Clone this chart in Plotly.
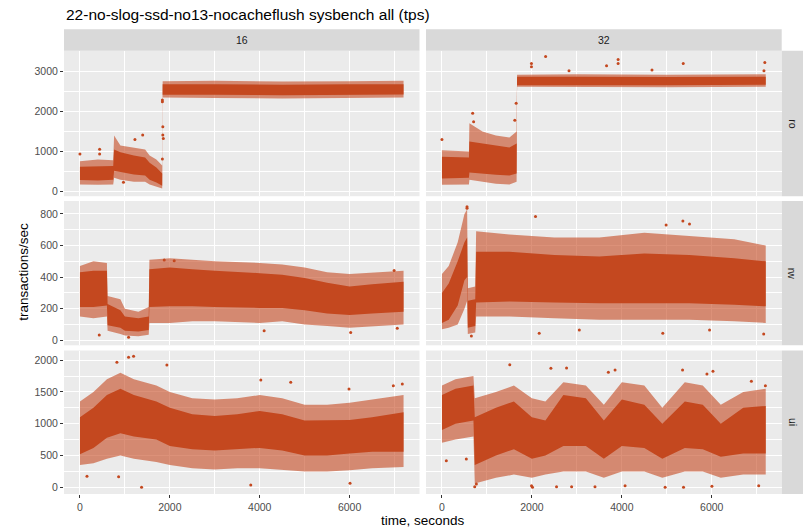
import plotly.graph_objects as go

W, H = 810, 528
COLOR = "#C4481F"
FONT = "Liberation Sans, Arial, Helvetica, sans-serif"

TITLE = "22-no-slog-ssd-no13-nocacheflush sysbench all (tps)"
X_TITLE = "time, seconds"
Y_TITLE = "transactions/sec"
COLS = ["16", "32"]
ROWS = ["ro", "rw", "ui"]
X_TICKS = [0, 2000, 4000, 6000]
X_MINOR = [1000, 3000, 5000, 7000]
Y_TICKS = {"ro": [0, 1000, 2000, 3000], "rw": [0, 200, 400, 600, 800], "ui": [0, 500, 1000, 1500, 2000]}
Y_MINOR = {"ro": [500, 1500, 2500, 3500], "rw": [100, 300, 500, 700], "ui": [250, 750, 1250, 1750]}

# ---- values: time (s), outer low, dense low, dense high, outer high ----
RO16_T      = [0, 400, 740, 760, 900, 1200, 1450, 1550, 1700, 1830, 1840, 3000, 4500, 6000, 7200]
RO16_OUT_LO = [180, 170, 180, 350, 300, 250, 250, 180, 120, 80, 2340, 2330, 2320, 2330, 2340]
RO16_IN_LO  = [290, 280, 300, 520, 480, 430, 400, 300, 230, 150, 2410, 2410, 2400, 2410, 2420]
RO16_IN_HI  = [620, 640, 640, 1050, 980, 900, 850, 720, 600, 450, 2670, 2670, 2660, 2670, 2670]
RO16_OUT_HI = [760, 800, 780, 1400, 1150, 1100, 1050, 900, 800, 650, 2750, 2760, 2740, 2750, 2760]
RO16_PT_T = [0, 438, 438, 968, 1396, 1223, 1844, 1844, 1855, 1834, 1834, 1834]
RO16_PT_V = [937, 1053, 937, 232, 1410, 1300, 1617, 1410, 1326, 812, 2280, 2238]

RO32_T      = [0, 600, 610, 900, 1200, 1500, 1660, 1670, 3000, 5000, 7200]
RO32_OUT_LO = [170, 180, 300, 250, 200, 180, 250, 2610, 2600, 2600, 2610]
RO32_IN_LO  = [330, 350, 480, 450, 420, 400, 450, 2650, 2650, 2650, 2660]
RO32_IN_HI  = [870, 850, 1250, 1200, 1150, 1100, 1200, 2860, 2860, 2850, 2860]
RO32_OUT_HI = [1030, 1000, 1700, 1500, 1400, 1350, 1500, 2910, 2920, 2910, 2920]
RO32_PT_T = [0, 683, 704, 1620, 1650, 1990, 1990, 2305, 2825, 3660, 3917, 3917, 4670, 5365, 7180, 7160]
RO32_PT_V = [1300, 1950, 1740, 1780, 2200, 3190, 3110, 3360, 3010, 3130, 3290, 3190, 3025, 3190, 3215, 3010]

RW16_T      = [0, 300, 600, 615, 900, 1000, 1300, 1530, 1545, 2000, 2500, 3000, 4000, 4500, 5000, 5500, 6000, 6500, 7200]
RW16_OUT_LO = [150, 140, 150, 60, 40, 30, 25, 35, 110, 110, 120, 120, 110, 120, 100, 90, 80, 90, 100]
RW16_IN_LO  = [210, 210, 220, 95, 80, 60, 55, 65, 210, 215, 215, 210, 205, 205, 190, 170, 160, 170, 180]
RW16_IN_HI  = [430, 440, 440, 230, 190, 150, 140, 150, 450, 460, 450, 440, 425, 415, 395, 365, 340, 355, 370]
RW16_OUT_HI = [470, 500, 490, 280, 260, 200, 180, 210, 510, 520, 510, 500, 490, 480, 460, 430, 420, 430, 440]
RW16_PT_T = [430, 1082, 6990, 7060, 4098, 6024, 2097, 1875]
RW16_PT_V = [34, 19, 441, 76, 61, 49, 504, 508]

RW32_T      = [0, 150, 350, 500, 560, 575, 740, 760, 1500, 2500, 3500, 4500, 5500, 6500, 7200]
RW32_OUT_LO = [70, 80, 100, 200, 250, 40, 50, 150, 150, 140, 130, 130, 130, 120, 110]
RW32_IN_LO  = [110, 130, 220, 380, 400, 80, 90, 240, 245, 240, 235, 235, 235, 225, 215]
RW32_IN_HI  = [300, 360, 500, 620, 650, 250, 260, 560, 560, 540, 530, 550, 540, 520, 500]
RW32_OUT_HI = [420, 470, 620, 800, 830, 330, 340, 690, 670, 650, 650, 680, 660, 640, 600]
RW32_PT_T = [557, 557, 2080, 5357, 5505, 4985, 2162, 3054, 4911, 7155, 654, 5951]
RW32_PT_V = [846, 835, 783, 755, 736, 730, 44, 65, 44, 40, 27, 65]

UI16_T      = [0, 300, 600, 900, 1200, 1700, 2000, 2500, 3000, 3500, 4000, 4500, 5000, 5500, 6000, 6500, 7200]
UI16_OUT_LO = [350, 380, 450, 500, 450, 400, 350, 300, 280, 300, 300, 280, 250, 250, 270, 300, 320]
UI16_IN_LO  = [520, 620, 780, 850, 800, 750, 650, 600, 580, 600, 620, 580, 500, 500, 530, 560, 560]
UI16_IN_HI  = [1100, 1250, 1450, 1550, 1450, 1350, 1250, 1150, 1120, 1150, 1200, 1150, 1050, 1050, 1060, 1100, 1180]
UI16_OUT_HI = [1350, 1500, 1700, 1800, 1700, 1600, 1500, 1400, 1380, 1400, 1450, 1400, 1300, 1300, 1330, 1380, 1450]
UI16_PT_T = [1371, 1082, 1193, 822, 1934, 4024, 4690, 5987, 6010, 3801, 156, 860, 7173, 6973]
UI16_PT_V = [0, 2044, 2060, 1965, 1923, 1687, 1650, 1546, 63, 37, 173, 168, 1624, 1598]

UI32_T      = [0, 300, 700, 730, 1200, 1600, 2000, 2300, 2700, 3200, 3600, 4000, 4500, 4900, 5400, 5800, 6200, 6700, 7200]
UI32_OUT_LO = [700, 750, 800, 60, 150, 200, 150, 200, 250, 250, 150, 250, 250, 150, 250, 250, 150, 200, 200]
UI32_IN_LO  = [900, 1000, 1050, 350, 500, 600, 450, 500, 650, 650, 450, 650, 620, 450, 620, 600, 480, 530, 530]
UI32_IN_HI  = [1450, 1550, 1600, 1100, 1250, 1350, 1100, 1050, 1450, 1400, 1050, 1380, 1300, 1000, 1350, 1300, 1000, 1250, 1280]
UI32_OUT_HI = [1600, 1700, 1750, 1400, 1500, 1600, 1400, 1350, 1650, 1600, 1300, 1650, 1600, 1250, 1650, 1600, 1300, 1500, 1550]
UI32_PT_T = [1508, 2422, 2771, 3700, 3849, 5350, 6026, 5892, 6880, 7192, 728, 765, 1991, 2013, 2548, 2883, 3403, 4072, 4963, 5372, 6003, 7044, 97, 542]
UI32_PT_V = [1928, 1870, 1875, 1808, 1845, 1845, 1823, 1782, 1666, 1598, 10, 52, 26, 0, 10, 10, 10, 26, 0, 0, 16, 26, 419, 445]

PANELS = {
    ("ro", "16"): (RO16_T, RO16_OUT_LO, RO16_IN_LO, RO16_IN_HI, RO16_OUT_HI, RO16_PT_T, RO16_PT_V),
    ("ro", "32"): (RO32_T, RO32_OUT_LO, RO32_IN_LO, RO32_IN_HI, RO32_OUT_HI, RO32_PT_T, RO32_PT_V),
    ("rw", "16"): (RW16_T, RW16_OUT_LO, RW16_IN_LO, RW16_IN_HI, RW16_OUT_HI, RW16_PT_T, RW16_PT_V),
    ("rw", "32"): (RW32_T, RW32_OUT_LO, RW32_IN_LO, RW32_IN_HI, RW32_OUT_HI, RW32_PT_T, RW32_PT_V),
    ("ui", "16"): (UI16_T, UI16_OUT_LO, UI16_IN_LO, UI16_IN_HI, UI16_OUT_HI, UI16_PT_T, UI16_PT_V),
    ("ui", "32"): (UI32_T, UI32_OUT_LO, UI32_IN_LO, UI32_IN_HI, UI32_OUT_HI, UI32_PT_T, UI32_PT_V),
}

# ---- layout geometry (pixels) ----
X_DOM_PX = [(64, 419.5), (426, 781.7)]
Y_DOM_PX = [(50.7, 196.2), (201.0, 345.3), (350.5, 494.0)]
X_RANGE = [-355, 7555]
Y_RANGE = {"ro": [-112, 3507], "rw": [-31.6, 881.6], "ui": [-105, 2151]}


def px_x(p):
    return p / W


def px_y(p):
    return 1 - p / H


fig = go.Figure()
layout = {}
for r, row in enumerate(ROWS):
    for c, col in enumerate(COLS):
        k = r * 2 + c + 1
        sfx = "" if k == 1 else str(k)
        T, olo, ilo, ihi, ohi, pt, pv = PANELS[(row, col)]
        xs = list(T) + list(T)[::-1]
        fig.add_trace(go.Scatter(
            x=xs, y=list(ohi) + list(olo)[::-1], fill="toself", mode="lines",
            line=dict(width=0), fillcolor="rgba(196,72,31,0.6)",
            xaxis="x" + sfx, yaxis="y" + sfx, hoverinfo="skip", showlegend=False))
        fig.add_trace(go.Scatter(
            x=xs, y=list(ihi) + list(ilo)[::-1], fill="toself", mode="lines",
            line=dict(width=0), fillcolor="rgba(196,72,31,1.0)",
            xaxis="x" + sfx, yaxis="y" + sfx, hoverinfo="skip", showlegend=False))
        fig.add_trace(go.Scatter(
            x=pt, y=pv, mode="markers", marker=dict(size=3, color=COLOR),
            xaxis="x" + sfx, yaxis="y" + sfx, showlegend=False))
        xd = X_DOM_PX[c]
        yd = Y_DOM_PX[r]
        bottom = r == len(ROWS) - 1
        left = c == 0
        layout["xaxis" + sfx] = dict(
            domain=[px_x(xd[0]), px_x(xd[1])], anchor="y" + sfx, range=X_RANGE,
            tickvals=X_TICKS, ticktext=[str(v) for v in X_TICKS],
            showticklabels=bottom, ticks="outside" if bottom else "",
            ticklen=3, tickwidth=1, tickcolor="#333333",
            tickfont=dict(size=10.5, color="#4D4D4D", family=FONT),
            showgrid=True, gridcolor="white", gridwidth=1.1,
            minor=dict(tickvals=X_MINOR, showgrid=True, gridcolor="white", gridwidth=0.55, ticks=""),
            zeroline=False, showline=False, fixedrange=True)
        layout["yaxis" + sfx] = dict(
            domain=[px_y(yd[1]), px_y(yd[0])], anchor="x" + sfx, range=Y_RANGE[row],
            tickvals=Y_TICKS[row], ticktext=[str(v) for v in Y_TICKS[row]],
            showticklabels=left, ticks="outside" if left else "",
            ticklen=3, tickwidth=1, tickcolor="#333333",
            tickfont=dict(size=10.5, color="#4D4D4D", family=FONT),
            showgrid=True, gridcolor="white", gridwidth=1.1,
            minor=dict(tickvals=Y_MINOR[row], showgrid=True, gridcolor="white", gridwidth=0.55, ticks=""),
            zeroline=False, showline=False, fixedrange=True)

shapes = []
annotations = []
# top strips
for c, col in enumerate(COLS):
    xd = X_DOM_PX[c]
    shapes.append(dict(type="rect", xref="paper", yref="paper", x0=px_x(xd[0]), x1=px_x(xd[1]),
                       y0=px_y(50.7), y1=px_y(29.3), fillcolor="#D9D9D9", line=dict(width=0), layer="below"))
    annotations.append(dict(text=col, xref="paper", yref="paper", x=px_x((xd[0] + xd[1]) / 2), y=px_y(40),
                            showarrow=False, xanchor="center", yanchor="middle",
                            font=dict(size=10.5, color="#1A1A1A", family=FONT)))
# right strips
for r, row in enumerate(ROWS):
    yd = Y_DOM_PX[r]
    shapes.append(dict(type="rect", xref="paper", yref="paper", x0=px_x(781.7), x1=px_x(803),
                       y0=px_y(yd[1]), y1=px_y(yd[0]), fillcolor="#D9D9D9", line=dict(width=0), layer="below"))
    annotations.append(dict(text=row, xref="paper", yref="paper", x=px_x(792.3), y=px_y((yd[0] + yd[1]) / 2),
                            showarrow=False, xanchor="center", yanchor="middle", textangle=90,
                            font=dict(size=10.5, color="#1A1A1A", family=FONT)))

annotations.append(dict(text=TITLE, xref="paper", yref="paper", x=px_x(64), y=px_y(14.5),
                        showarrow=False, xanchor="left", yanchor="middle",
                        font=dict(size=15.5, color="black", family=FONT)))
annotations.append(dict(text=X_TITLE, xref="paper", yref="paper", x=px_x(422.8), y=px_y(520),
                        showarrow=False, xanchor="center", yanchor="middle",
                        font=dict(size=13.5, color="black", family=FONT)))
annotations.append(dict(text=Y_TITLE, xref="paper", yref="paper", x=px_x(23.5), y=px_y(272.3),
                        showarrow=False, xanchor="center", yanchor="middle", textangle=-90,
                        font=dict(size=13.5, color="black", family=FONT)))

fig.update_layout(
    width=W, height=H, margin=dict(l=0, r=0, t=0, b=0),
    paper_bgcolor="white", plot_bgcolor="#EBEBEB",
    showlegend=False, shapes=shapes, annotations=annotations,
    font=dict(family=FONT), **layout)

fig.write_html("out.html")
